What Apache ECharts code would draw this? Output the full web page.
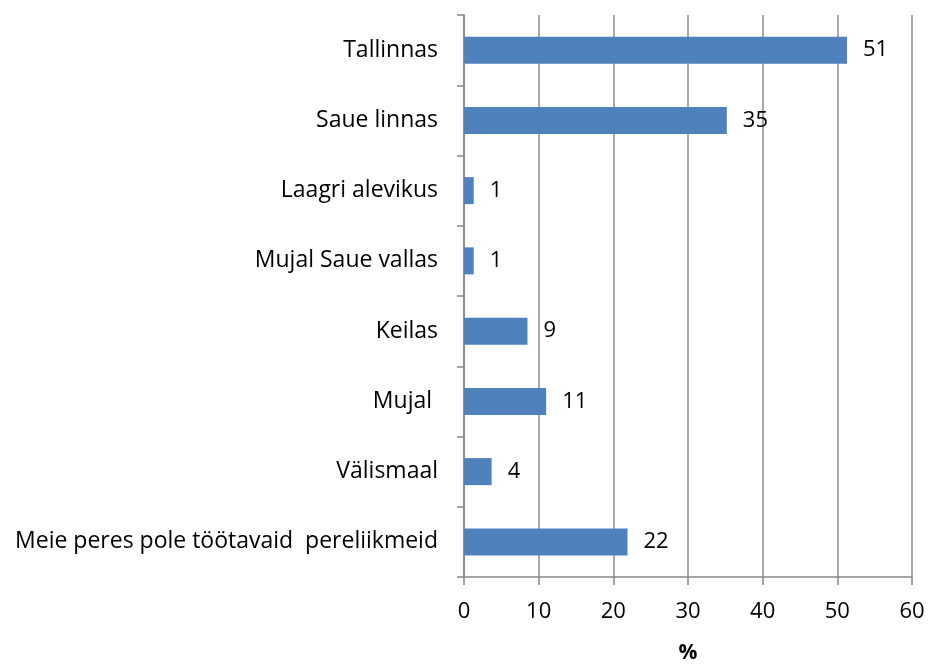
<!DOCTYPE html>
<html>
<head>
<meta charset="utf-8">
<script src="https://cdn.jsdelivr.net/npm/echarts@6/dist/echarts.min.js"></script>
<style>
  html, body { margin: 0; padding: 0; background: #fff; }
  #chart { width: 930px; height: 669px; }
</style>
</head>
<body>
<div id="chart"></div>
<script>
// categories, top to bottom as in the picture
var categories = [
    'Tallinnas',
    'Saue linnas',
    'Laagri alevikus',
    'Mujal Saue vallas',
    'Keilas',
    'Mujal ',
    'Välismaal',
    'Meie peres pole töötavaid  pereliikmeid'
];
// share in %
var values = [51.3, 35.2, 1.3, 1.3, 8.5, 11, 3.7, 21.9];
var xTicks = [0, 10, 20, 30, 40, 50, 60];

var fontName = '"Open Sans", "Noto Sans", sans-serif';
var axisGray = '#868686';

var chart = echarts.init(document.getElementById('chart'));

chart.setOption({
    animation: false,
    grid: { left: 464, right: 18, top: 15, bottom: 88, containLabel: false },
    xAxis: {
        type: 'value',
        min: xTicks[0],
        max: xTicks[xTicks.length - 1],
        interval: 10,
        name: '%',
        nameLocation: 'middle',
        nameGap: 66,
        nameTextStyle: { fontFamily: fontName, fontSize: 21, fontWeight: 'bold', color: '#000' },
        axisLine: { show: true, lineStyle: { color: axisGray, width: 1.5 } },
        axisTick: { show: true, length: 8, lineStyle: { color: axisGray, width: 1.5 } },
        axisLabel: { fontFamily: fontName, fontSize: 22, color: '#000', margin: 24 },
        splitLine: { show: true, lineStyle: { color: '#8c8c8c', width: 1.5 } }
    },
    yAxis: {
        type: 'category',
        inverse: true,
        data: categories,
        axisLine: { show: true, lineStyle: { color: axisGray, width: 1.5 } },
        axisTick: { show: true, length: 7, alignWithLabel: false, lineStyle: { color: axisGray, width: 1.5 } },
        axisLabel: { fontFamily: fontName, fontSize: 23, color: '#000', margin: 26 }
    },
    series: [{
        type: 'bar',
        data: values,
        barWidth: 27,
        itemStyle: { color: '#4F81BD' },
        label: {
            show: true,
            position: 'right',
            distance: 16,
            fontFamily: fontName,
            fontSize: 22,
            color: '#000',
            formatter: function (p) { return Math.round(p.value); }
        }
    }]
});
</script>
</body>
</html>
